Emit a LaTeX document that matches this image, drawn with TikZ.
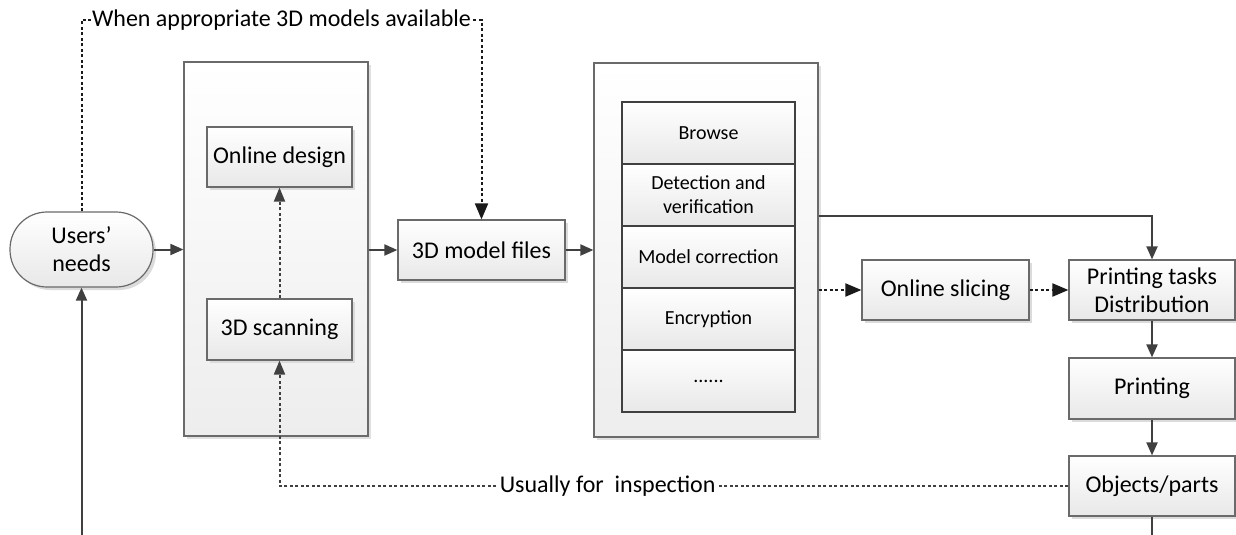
\documentclass[tikz,border=0pt]{standalone}
\usepackage{fontspec}
\setmainfont{Carlito}
\usetikzlibrary{arrows.meta,shadows,calc}
\definecolor{lg}{HTML}{404040}
\definecolor{bd}{HTML}{6A6A6A}
\definecolor{dk}{HTML}{1A1A1A}
\tikzset{
  box/.style={draw=bd, line width=1.2pt, top color=white, bottom color=black!9,
    drop shadow={shadow xshift=3pt, shadow yshift=-3pt, fill=black!14, opacity=1},
    align=center, inner sep=2pt, font=\fontsize{24}{28}\selectfont},
  cell/.style={draw=lg, line width=1.2pt, top color=white, bottom color=black!9,
    minimum width=173pt, minimum height=62pt, align=center, inner sep=1pt,
    font=\fontsize{20}{24}\selectfont},
  big/.style={draw=bd, line width=1.2pt, top color=white, bottom color=black!7,
    drop shadow={shadow xshift=3pt, shadow yshift=-3pt, fill=black!12, opacity=1}},
  sarr/.style={draw=lg, line width=2pt, -{Triangle[length=13pt,width=11pt]}},
  sline/.style={draw=lg, line width=2pt},
  darr/.style={draw=dk, line width=2pt, dash pattern=on 3pt off 2.5pt, -{Triangle[length=16pt,width=13pt]}},
  dgarr/.style={draw=lg, line width=2pt, dash pattern=on 3pt off 2.5pt, -{Triangle[length=14pt,width=11pt,fill=lg]}},
  lbl/.style={fill=white, inner sep=1pt, font=\fontsize{24}{28}\selectfont}
}
\begin{document}
\begin{tikzpicture}[x=1pt,y=-1pt]
\useasboundingbox (0,0) rectangle (1236,535);
% containers
\node[big, minimum width=184pt, minimum height=374pt] (lbox) at (276,249) {};
\node[big, minimum width=224pt, minimum height=374pt] (rbox) at (706,250) {};
% nodes
\node[box, rounded corners=37pt, minimum width=143pt, minimum height=75pt] (users) at (81.5,249.5) {Users’\\needs};
\node[box, minimum width=145pt, minimum height=60pt] (design) at (279.5,157) {Online design};
\node[box, minimum width=145pt, minimum height=61pt] (scan) at (279.5,329.5) {3D scanning};
\node[box, minimum width=167pt, minimum height=60pt] (files) at (481.5,250) {3D model files};
\node[cell] (browse) at (708.5,133) {Browse};
\node[cell] (detect) at (708.5,195) {Detection and\\verification};
\node[cell] (correct) at (708.5,257) {Model correction};
\node[cell] (encrypt) at (708.5,319) {Encryption};
\node[cell] (more) at (708.5,381) {......};
\node[box, minimum width=167pt, minimum height=60pt] (slicing) at (945.5,290) {Online slicing};
\node[box, minimum width=166pt, minimum height=60pt] (tasks) at (1152,290) {Printing tasks\\Distribution};
\node[box, minimum width=166pt, minimum height=61pt] (printing) at (1152,388.5) {Printing};
\node[box, minimum width=166pt, minimum height=60pt] (objects) at (1152,486) {Objects/parts};
% helper coordinates
\coordinate (ubot) at (81.5,535);
\coordinate (obot) at (1152,535);
\coordinate (topy) at (0,20);
\coordinate (outy) at (0,216);
% connectors
\draw[sarr] (ubot) -- (users.south);
\draw[sarr] (users.east) -- (users.east -| lbox.west);
\draw[sarr] (lbox.east |- files.west) -- (files.west);
\draw[sarr] (files.east) -- (files.east -| rbox.west);
\draw[dgarr] (scan.north) -- (design.south);
\draw[darr] (users.north) -- (users.north |- topy) -- (files.north |- topy)
  node[lbl, pos=0.5] {When appropriate 3D models available} -- (files.north);
\draw[sarr] (rbox.east |- outy) -| (tasks.north);
\draw[darr] (rbox.east |- slicing.west) -- (slicing.west);
\draw[darr] (slicing.east) -- (tasks.west);
\draw[sarr] (tasks.south) -- (printing.north);
\draw[sarr] (printing.south) -- (objects.north);
\draw[sline] (objects.south) -- (obot);
\draw[dgarr] (objects.west) -- (objects.west -| scan.south)
  node[lbl, pos=0.584] {Usually for~ inspection} -- (scan.south);
\end{tikzpicture}
\end{document}
